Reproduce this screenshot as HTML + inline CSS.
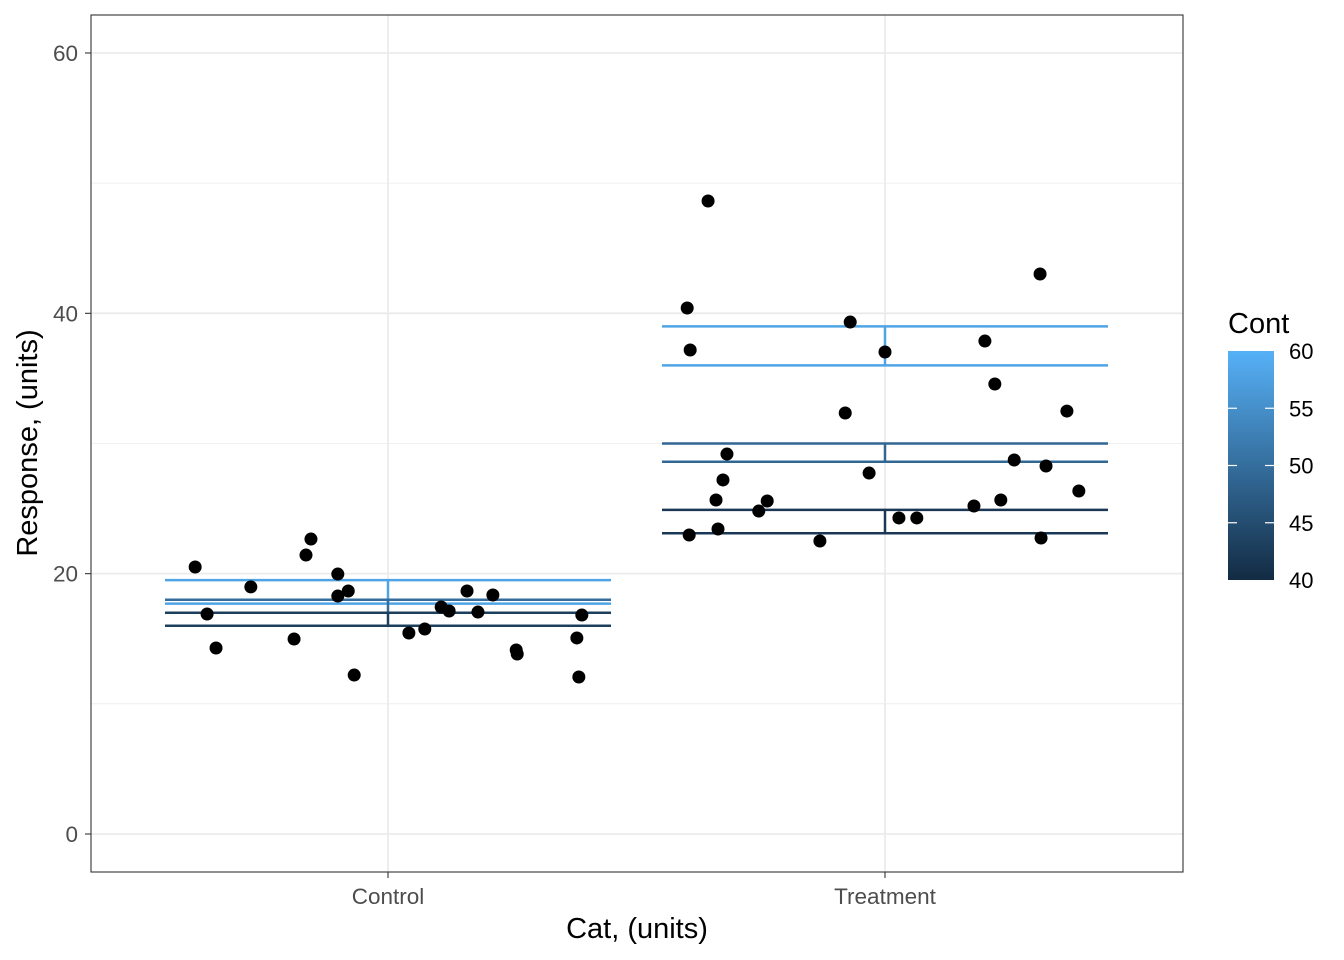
<!DOCTYPE html>
<html><head><meta charset="utf-8"><style>body{margin:0;background:#fff}svg{display:block;font-family:"Liberation Sans",sans-serif}</style></head>
<body>
<svg id="chart" width="1344" height="960">
<defs><linearGradient id="grad" x1="0" y1="1" x2="0" y2="0"><stop offset="0" stop-color="#132B43"/><stop offset="1" stop-color="#56B1F7"/></linearGradient></defs>
<rect x="91" y="15" width="1092" height="857" fill="#fff"/>
<g id="grid"></g><g id="bars"></g><g id="points"></g>
<rect x="91" y="15" width="1092" height="857" fill="none" stroke="#333" stroke-width="1.1"/>
<g id="axes"></g>
<text x="637" y="938" text-anchor="middle" font-size="29">Cat, (units)</text>
<text transform="translate(37,443) rotate(-90)" text-anchor="middle" font-size="29">Response, (units)</text>
<g>
<text x="1228" y="333" font-size="29">Cont</text>
<rect x="1228" y="351" width="46" height="229" fill="url(#grad)"/>
<g id="legend"></g>
</g>
</svg>
<script>
const categories = ["Control", "Treatment"];
const yTicks = [0, 20, 40, 60];
const yMinor = [10, 30, 50];
const legendTicks = [40, 45, 50, 55, 60];
const barCat = [0, 0, 0, 1, 1, 1];
const barMin = [17.7, 17.0, 16.0, 36.0, 28.6, 23.1];
const barMax = [19.5, 18.0, 17.0, 39.0, 30.0, 24.9];
const barCont = [58, 50, 43, 58, 49, 42];
const ptCat = [0,0,0,0,0,0,0,0,0,0,0,0,0,0,0,0,0,0,0,0,0,0,0,
  1,1,1,1,1,1,1,1,1,1,1,1,1,1,1,1,1,1,1,1,1,1,1,1,1,1,1];
const ptJitter = [-0.388,-0.364,-0.346,-0.276,-0.189,-0.165,-0.155,-0.101,-0.101,-0.080,-0.068,0.042,0.074,0.107,0.123,0.159,0.181,0.211,0.258,0.260,0.380,0.384,0.390,
  -0.398,-0.394,-0.392,-0.356,-0.340,-0.336,-0.326,-0.318,-0.254,-0.237,-0.131,-0.080,-0.070,-0.032,0,0.028,0.064,0.179,0.201,0.221,0.233,0.260,0.312,0.314,0.324,0.366,0.390];
const ptVal = [20.51,16.90,14.29,18.98,14.98,21.43,22.66,19.97,18.28,18.67,12.21,15.44,15.75,17.44,17.13,18.67,17.05,18.36,14.14,13.83,15.06,12.06,16.82,
  40.41,22.97,37.18,48.63,25.66,23.43,27.20,29.19,24.81,25.58,22.51,32.34,39.33,27.73,37.03,24.28,24.28,25.20,37.87,34.57,25.66,28.73,43.02,22.74,28.27,32.49,26.35];

const NS = "http://www.w3.org/2000/svg";
const y = v => 834 - v * 13.017;
const x = c => 388 + c * 497;
const ly = v => 580 - (v - 40) / 20 * 229;
function mk(parent, tag, attrs) {
  const e = document.createElementNS(NS, tag);
  for (const k in attrs) e.setAttribute(k, attrs[k]);
  document.getElementById(parent).appendChild(e);
  return e;
}
function lerp(a, b, t) { return Math.round(a + (b - a) * t); }
function col(v) {
  const t = Math.max(0, Math.min(1, (v - 40) / 20));
  return `rgb(${lerp(0x13,0x56,t)},${lerp(0x2B,0xB1,t)},${lerp(0x43,0xF7,t)})`;
}
yMinor.forEach(v => {
  const l = mk("grid", "line", {x1:91, x2:1183, y1:y(v), y2:y(v), stroke:"#EBEBEB", "stroke-width":0.8});
  
  
});
yTicks.forEach(v => {
  const l = mk("grid", "line", {x1:91, x2:1183, y1:y(v), y2:y(v), stroke:"#EBEBEB", "stroke-width":1.8});
  
  
  const t = mk("axes", "line", {x1:85, x2:91, y1:y(v), y2:y(v), stroke:"#333", "stroke-width":1.1});
  
  
  const tx = mk("axes", "text", {x:78, y:y(v)+8, "text-anchor":"end", "font-size":22.5, fill:"#4D4D4D"});
  tx.textContent = v;
  
  
});
categories.forEach((c, i) => {
  const l = mk("grid", "line", {x1:x(i), x2:x(i), y1:15, y2:872, stroke:"#EBEBEB", "stroke-width":1.8});
  
  
  const t = mk("axes", "line", {x1:x(i), x2:x(i), y1:872, y2:878, stroke:"#333", "stroke-width":1.1});
  
  
  const tx = mk("axes", "text", {x:x(i), y:904, "text-anchor":"middle", "font-size":22.5, fill:"#4D4D4D"});
  tx.textContent = c;
  
  
});
barCat.forEach((c, i) => {
  const cl = col(barCont[i]);
  const cx = x(c);
  const g = document.createElementNS(NS, "g");
  
  
  document.getElementById("bars").appendChild(g);
  g.id = "bar" + i;
  mk(g.id, "line", {x1:cx-223, x2:cx+223, y1:y(barMin[i]), y2:y(barMin[i]), stroke:cl, "stroke-width":2.5});
  mk(g.id, "line", {x1:cx-223, x2:cx+223, y1:y(barMax[i]), y2:y(barMax[i]), stroke:cl, "stroke-width":2.5});
  mk(g.id, "line", {x1:cx, x2:cx, y1:y(barMin[i]), y2:y(barMax[i]), stroke:cl, "stroke-width":2.5});
});
ptVal.forEach((v, i) => {
  const p = mk("points", "circle", {cx:x(ptCat[i] + ptJitter[i]), cy:y(v), r:6.5, fill:"#000"});
  
  
});
legendTicks.forEach(v => {
  if (v > 40 && v < 60) {
    mk("legend", "line", {x1:1228, x2:1237, y1:ly(v), y2:ly(v), stroke:"#fff", "stroke-width":1.2});
    mk("legend", "line", {x1:1265, x2:1274, y1:ly(v), y2:ly(v), stroke:"#fff", "stroke-width":1.2});
  }
  const t = mk("legend", "text", {x:1289, y:ly(v)+8, "font-size":22, fill:"#000"});
  t.textContent = v;
  
  
});
</script>
</body></html>
